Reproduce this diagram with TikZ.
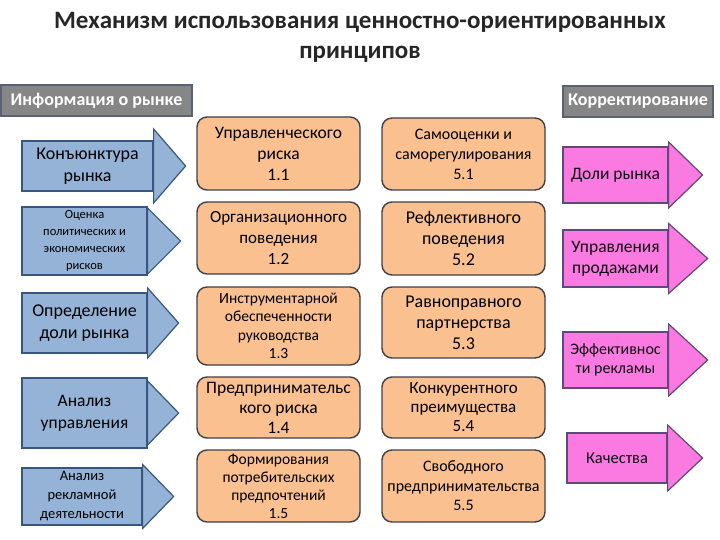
\documentclass[tikz,border=0pt]{standalone}
\usepackage{fontspec}
\setmainfont{Carlito}
\usepackage{xcolor}
\definecolor{hdrgray}{RGB}{134,134,134}
\definecolor{hdredge}{RGB}{88,98,112}
\definecolor{mktblue}{RGB}{149,179,215}
\definecolor{mktedge}{RGB}{56,86,128}
\definecolor{prinfill}{RGB}{250,192,144}
\definecolor{prinedge}{RGB}{64,64,72}
\definecolor{corpink}{RGB}{250,122,225}
\definecolor{coredge}{RGB}{96,73,122}

\begin{document}
\begin{tikzpicture}[x=1pt,y=-1pt,
  hdrbox/.style={fill=hdrgray, draw=hdredge, line width=1.2pt, text=white,
    font=\fontsize{18}{21}\selectfont\bfseries, inner sep=1pt},
  mktbox/.style={fill=mktblue, draw=mktedge, line width=1.2pt, align=center, inner sep=1pt},
  prinbox/.style={fill=prinfill, draw=prinedge, line width=1.4pt, rounded corners=10pt,
    align=center, inner sep=1pt, minimum width=163},
  corbox/.style={fill=corpink, draw=coredge, line width=1.2pt, align=center, inner sep=1pt,
    text=black!85!coredge}]
  \useasboundingbox (0,0) rectangle (720,540);
  \fill[white] (0,0) rectangle (720,540);

  % title
  \node[align=center, font=\fontsize{25}{30}\selectfont\bfseries, text=black!85] (title) at (360,37)
    {Механизм использования ценностно-ориентированных\\принципов};

  % headers
  \node[hdrbox, minimum width=191, minimum height=31] (hdrinfo) at (96.5,100.5) {Информация о рынке};
  \node[hdrbox, minimum width=150, minimum height=31] (hdrcor) at (638,101.5) {Корректирование};

  % market information arrows
  \foreach \nm/\cx/\cy/\w/\h/\hh/\hl/\fs/\bs/\txt in {
    mk1/87.5/166/131/50/37/32/18/22/{Конъюнктура\\рынка},
    mk2/84.5/241/125/68/33/33/12.5/17/{Оценка\\политических и\\экономических\\рисков},
    mk3/84.5/323/125/60/35/31/18/22/{Определение\\доли рынка},
    mk4/84.5/413/125/70/32/31/17.5/22/{Анализ\\управления},
    mk5/82/496.5/120/57/32/31/14.5/19/{Анализ\\рекламной\\деятельности}}{
    \node[mktbox, minimum width=\w, minimum height=\h, font=\fontsize{\fs}{\bs}\selectfont] (\nm) at (\cx,\cy) {\txt};
    \filldraw[fill=mktblue, draw=mktedge, line width=1.2pt, line join=miter]
      ([yshift=\hh pt]\nm.east) -- ([xshift=\hl pt]\nm.east) -- ([yshift=-\hh pt]\nm.east) -- cycle;
  }

  % principle blocks
  \foreach \nm/\cx/\cy/\h/\fs/\bs/\txt in {
    pa/278.5/153.5/73/17.5/21/{Управленческого\\риска\\1.1},
    pb/278.5/238/72/17/21/{Организационного\\поведения\\1.2},
    pc/278.5/326/78/15.5/18.5/{Инструментарной\\обеспеченности\\руководства\\1.3},
    pd/278.5/407.5/61/17.5/20/{Предпринимательс\\кого риска\\1.4},
    pe/278.5/486/72/15.5/18/{Формирования\\потребительских\\предпочтений\\1.5},
    qa/463.5/154/72/16/20/{Самооценки и\\саморегулирования\\5.1},
    qb/463.5/238.5/73/18/21/{Рефлективного\\поведения\\5.2},
    qc/463.5/322.5/71/18/21/{Равноправного\\партнерства\\5.3},
    qd/463.5/407.5/61/17/19/{Конкурентного\\преимущества\\5.4},
    qe/463.5/486/72/16/19.5/{Свободного\\предпринимательства\\5.5}}{
    \node[prinbox, minimum height=\h, font=\fontsize{\fs}{\bs}\selectfont] (\nm) at (\cx,\cy) {\txt};
  }

  % correction arrows
  \foreach \nm/\cx/\cy/\w/\h/\hh/\hl/\fs/\bs/\txt in {
    co1/615.5/175/105/56/33/34/17.5/21/{Доли рынка},
    co2/615.5/258.5/105/57/35/39/17.5/21/{Управления\\продажами},
    co3/615.5/360/105/56/36/39/16/19/{Эффективнос\\ти рекламы},
    co4/617/458/100/50/33/35/16.5/20/{Качества}}{
    \node[corbox, minimum width=\w, minimum height=\h, font=\fontsize{\fs}{\bs}\selectfont] (\nm) at (\cx,\cy) {\txt};
    \filldraw[fill=corpink, draw=coredge, line width=1.2pt, line join=miter]
      ([yshift=\hh pt]\nm.east) -- ([xshift=\hl pt]\nm.east) -- ([yshift=-\hh pt]\nm.east) -- cycle;
  }
\end{tikzpicture}
\end{document}
